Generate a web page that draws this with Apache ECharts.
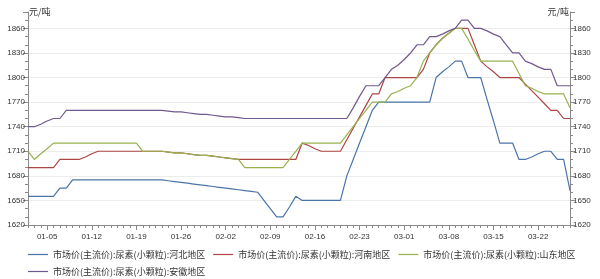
<!DOCTYPE html>
<html>
<head>
<meta charset="utf-8">
<script src="https://cdn.jsdelivr.net/npm/echarts@6/dist/echarts.min.js"></script>
<style>
  html, body { margin: 0; padding: 0; background: #fff; }
  #main { width: 600px; height: 279px; }
</style>
</head>
<body>
<div id="main"></div>
<script>
// 日期 (2024-01-02 ~ 2024-03-27)
var dates = [
  '01-02','01-03','01-04','01-05','01-06','01-07','01-08','01-09','01-10','01-11',
  '01-12','01-13','01-14','01-15','01-16','01-17','01-18','01-19','01-20','01-21',
  '01-22','01-23','01-24','01-25','01-26','01-27','01-28','01-29','01-30','01-31',
  '02-01','02-02','02-03','02-04','02-05','02-06','02-07','02-08','02-09','02-10',
  '02-11','02-12','02-13','02-14','02-15','02-16','02-17','02-18','02-19','02-20',
  '02-21','02-22','02-23','02-24','02-25','02-26','02-27','02-28','02-29',
  '03-01','03-02','03-03','03-04','03-05','03-06','03-07','03-08','03-09','03-10',
  '03-11','03-12','03-13','03-14','03-15','03-16','03-17','03-18','03-19','03-20',
  '03-21','03-22','03-23','03-24','03-25','03-26','03-27'
]

var seriesNames = [
  '市场价(主流价):尿素(小颗粒):河北地区',
  '市场价(主流价):尿素(小颗粒):河南地区',
  '市场价(主流价):尿素(小颗粒):山东地区',
  '市场价(主流价):尿素(小颗粒):安徽地区'
]

var hebei = [
  1655,1655,1655,1655,1655,1665,1665,1675,1675,1675,
  1675,1675,1675,1675,1675,1675,1675,1675,1675,1675,
  1675,1675,1674,1673,1672,1671,1670,1669,1668,1667,
  1666,1665,1664,1663,1662,1661,1660,1650,1640,1630,
  1630,1642,1655,1650,1650,1650,1650,1650,1650,1650,
  1680,1700,1720,1740,1760,1770,1770,1770,1770,1770,
  1770,1770,1770,1770,1800,1807,1813,1820,1820,1800,
  1800,1800,1773,1747,1720,1720,1720,1700,1700,1703,
  1707,1710,1710,1700,1700,1662
]

var henan = [
  1690,1690,1690,1690,1690,1700,1700,1700,1700,1703,
  1707,1710,1710,1710,1710,1710,1710,1710,1710,1710,
  1710,1710,1709,1708,1708,1707,1706,1705,1705,1704,
  1703,1702,1701,1700,1700,1700,1700,1700,1700,1700,
  1700,1700,1700,1720,1717,1713,1710,1710,1710,1710,
  1724,1738,1752,1766,1780,1780,1800,1800,1800,1800,
  1800,1800,1810,1830,1840,1848,1854,1860,1860,1860,
  1840,1820,1813,1807,1800,1800,1800,1800,1792,1784,
  1776,1768,1760,1760,1750,1750
]

var shandong = [
  1710,1700,1707,1713,1720,1720,1720,1720,1720,1720,
  1720,1720,1720,1720,1720,1720,1720,1720,1710,1710,
  1710,1710,1709,1708,1708,1707,1706,1705,1705,1704,
  1703,1702,1701,1700,1690,1690,1690,1690,1690,1690,
  1690,1700,1710,1720,1720,1720,1720,1720,1720,1720,
  1730,1740,1750,1760,1770,1770,1770,1780,1783,1787,
  1790,1800,1820,1830,1840,1848,1854,1860,1860,1847,
  1833,1820,1820,1820,1820,1820,1820,1805,1790,1787,
  1783,1780,1780,1780,1780,1763
]

var anhui = [
  1740,1740,1743,1747,1750,1750,1760,1760,1760,1760,
  1760,1760,1760,1760,1760,1760,1760,1760,1760,1760,
  1760,1760,1759,1758,1758,1757,1756,1755,1755,1754,
  1753,1752,1752,1751,1750,1750,1750,1750,1750,1750,
  1750,1750,1750,1750,1750,1750,1750,1750,1750,1750,
  1750,1763,1777,1790,1790,1790,1800,1810,1815,1822,
  1830,1840,1840,1850,1850,1853,1857,1860,1870,1870,
  1860,1860,1857,1853,1850,1840,1830,1830,1820,1817,
  1813,1810,1810,1790,1790,1790
]

var colors = ['#4A74A8', '#AD4542', '#98B24F', '#71588F']

var labelFont = { color: '#333', fontSize: 8, fontFamily: 'Liberation Sans, Arial, sans-serif' }
var axisGray = '#8a8a8a'

function showDateLabel(i) {
  return (i - 3) % 7 === 0
}

function yAxisCfg(pos) {
  return {
    type: 'value',
    position: pos,
    min: 1620,
    max: 1880,
    interval: 30,
    name: '元/吨',
    nameLocation: 'end',
    nameGap: 0,
    nameTextStyle: {
      color: '#333',
      fontSize: 9,
      fontFamily: 'Noto Sans CJK SC',
      align: pos === 'left' ? 'left' : 'right',
      verticalAlign: 'middle',
      padding: pos === 'left' ? [0, 0, 0, 1] : [0, 1, 0, 0]
    },
    axisLine: { show: true, lineStyle: { color: axisGray, width: 1 } },
    axisTick: { show: true, length: 5, lineStyle: { color: axisGray } },
    minorTick: { show: true, splitNumber: 3, length: 3, lineStyle: { color: axisGray } },
    axisLabel: Object.assign({
      margin: 3,
      showMaxLabel: false,
      formatter: function (v) { return String(v) }
    }, labelFont),
    splitLine: {
      show: pos === 'left',
      showMaxLine: false,
      lineStyle: { color: '#ececec', width: 1 }
    }
  }
}

var myChart = echarts.init(document.getElementById('main'), null, { renderer: 'canvas' })

var option = {
  animation: false,
  color: colors,
  grid: { left: 28, right: 30, top: 12, bottom: 54, containLabel: false },
  legend: {
    left: 28,
    top: 250,
    width: 560,
    icon: 'rect',
    itemWidth: 20,
    itemHeight: 1.2,
    itemGap: 8,
    padding: 0,
    textStyle: { color: '#333', fontSize: 9, fontFamily: 'Noto Sans CJK SC' },
    data: seriesNames
  },
  xAxis: [
    {
      type: 'category',
      data: dates,
      boundaryGap: false,
      axisLine: { lineStyle: { color: axisGray } },
      axisTick: { interval: 0, length: 3, lineStyle: { color: axisGray } },
      axisLabel: Object.assign({ interval: showDateLabel, margin: 8 }, labelFont)
    },
    {
      type: 'category',
      data: dates,
      boundaryGap: false,
      position: 'bottom',
      axisLine: { show: false },
      axisTick: { interval: showDateLabel, length: 5, lineStyle: { color: axisGray } },
      axisLabel: { show: false }
    }
  ],
  yAxis: [yAxisCfg('left'), yAxisCfg('right')],
  series: [
    { name: seriesNames[0], type: 'line', data: hebei },
    { name: seriesNames[1], type: 'line', data: henan },
    { name: seriesNames[2], type: 'line', data: shandong },
    { name: seriesNames[3], type: 'line', data: anhui }
  ].map(function (s, i) {
    return Object.assign(s, {
      symbol: 'none',
      showSymbol: false,
      lineStyle: { width: 1.2, color: colors[i] },
      itemStyle: { color: colors[i] }
    })
  })
}

myChart.setOption(option)
window.addEventListener('resize', function () {
  myChart.resize()
})
</script>
</body>
</html>
